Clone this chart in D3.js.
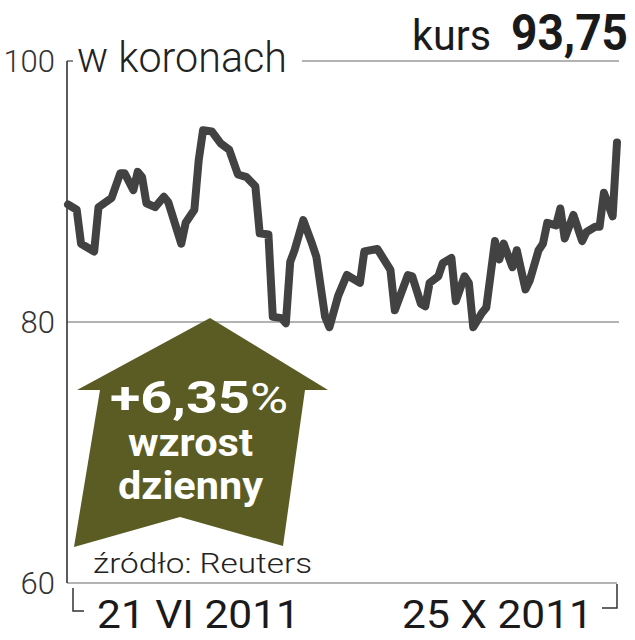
<!DOCTYPE html>
<html><head><meta charset="utf-8">
<script src="https://cdn.jsdelivr.net/npm/d3@7"></script>
<style>
html,body{margin:0;padding:0;background:#fff;}
svg{display:block;font-family:Roboto,"Open Sans",sans-serif;}
</style></head>
<body>
<svg id="c" width="635" height="640"></svg>
<script>
// ---- data ----
const startDate = "2011-06-21";
const endDate = "2011-10-25";
// days since 21 VI 2011
const days = [0,2,3,6,7,10,12,13,15,16,17,18,20,22,23,26,27,29,30,31,33,35,37,39,41,43,44,46,47,49,50,51,52,54,56,57,59,60,62,64,67,68,71,74,75,78,79,81,82,83,85,86,88,89,91,92,93,95,96,98,99,100,102,103,105,106,108,109,110,112,113,114,116,118,119,121,122,123,125,126];
const values = [89.0,88.6,86.0,85.4,88.8,89.5,91.4,91.4,90.1,91.5,91.1,89.1,88.8,89.6,89.2,86.0,87.6,88.6,92.4,94.7,94.6,93.7,93.2,91.3,91.1,90.4,86.8,86.7,80.4,80.3,79.9,84.6,85.5,87.8,86.0,85.0,80.4,79.6,82.0,83.6,83.0,85.4,85.6,84.0,80.9,83.6,83.5,81.4,81.2,83.0,83.5,84.5,84.9,81.6,83.5,83.0,79.6,80.7,81.1,86.2,84.8,86.0,84.2,85.5,82.5,83.2,85.5,86.0,87.6,87.4,88.7,86.4,88.2,86.2,86.9,87.3,87.3,89.9,88.1,93.75];
const yTicks = [60, 80, 100];
const xLabels = ["21 VI 2011", "25 X 2011"];
const unitLabel = "w koronach";
const kursLabel = "kurs";
const kursValue = "93,75";
const changeLabel = ["+6,35", "%"];
const changeText = ["wzrost", "dzienny"];
const sourceLabel = "źródło: Reuters";

const parse = d3.utcParse("%Y-%m-%d");
const t0 = parse(startDate), t1 = parse(endDate);
const data = days.map((d,i)=>({date:d3.utcDay.offset(t0,d), v:values[i]}));

const svg = d3.select("#c");
const x = d3.scaleUtc().domain([t0,t1]).range([68,617]);
const y = d3.scaleLinear().domain([60,100]).range([583,61]);
const axX = 67, rightX = 619;

// gridlines
svg.append("line").attr("x1",axX).attr("x2",73).attr("y1",y(100)).attr("y2",y(100)).attr("stroke","#666").attr("stroke-width",1.5);
svg.append("line").attr("x1",302).attr("x2",rightX).attr("y1",y(100)).attr("y2",y(100)).attr("stroke","#9a9a9a").attr("stroke-width",1.5);
svg.append("line").attr("x1",axX).attr("x2",rightX).attr("y1",y(80)).attr("y2",y(80)).attr("stroke","#9a9a9a").attr("stroke-width",1.5);
svg.append("line").attr("x1",axX).attr("x2",617).attr("y1",y(60)).attr("y2",y(60)).attr("stroke","#9a9a9a").attr("stroke-width",1.5);
// y axis line
svg.append("line").attr("x1",axX).attr("x2",axX).attr("y1",y(100)).attr("y2",y(60)).attr("stroke","#333").attr("stroke-width",1.6);

// y labels
svg.selectAll(".yl").data(yTicks).enter().append("text")
  .attr("x",55).attr("y",d=>y(d)+11).attr("text-anchor","end")
  .attr("font-size",31).attr("font-weight",300).attr("fill","#333").text(d=>d);

// unit label
svg.append("text").attr("x",77).attr("y",72).attr("font-size",42).attr("font-weight",300)
  .attr("fill","#222").attr("textLength",210).attr("lengthAdjust","spacingAndGlyphs").text(unitLabel);

// kurs
svg.append("text").attr("x",412).attr("y",50).attr("font-size",42).attr("font-weight",400)
  .attr("fill","#1a1a1a").attr("textLength",79).attr("lengthAdjust","spacingAndGlyphs").text(kursLabel);
svg.append("text").attr("x",511).attr("y",50).attr("font-size",50).attr("font-weight",700)
  .attr("fill","#1a1a1a").attr("textLength",117).attr("lengthAdjust","spacingAndGlyphs").text(kursValue);

// arrow
const arrowPts = [[210,318],[328,390],[305,390],[283,546],[180,517],[74,547],[100,390],[77,390]];
svg.append("path").attr("d","M"+arrowPts.map(p=>p.join(",")).join("L")+"Z").attr("fill","#5a5c24");

const t1e = svg.append("text").attr("x",110).attr("y",413).attr("fill","#fff").attr("font-weight",700).attr("font-size",45);
t1e.append("tspan").text(changeLabel[0]);
t1e.append("tspan").attr("font-weight",400).attr("font-size",42).text(changeLabel[1]);
t1e.attr("textLength",178).attr("lengthAdjust","spacingAndGlyphs");
svg.append("text").attr("x",128).attr("y",456).attr("fill","#fff").attr("font-weight",700).attr("font-size",38)
  .attr("textLength",125).attr("lengthAdjust","spacingAndGlyphs").text(changeText[0]);
svg.append("text").attr("x",118).attr("y",499).attr("fill","#fff").attr("font-weight",700).attr("font-size",38)
  .attr("textLength",145).attr("lengthAdjust","spacingAndGlyphs").text(changeText[1]);

// source
svg.append("text").attr("x",93).attr("y",573).attr("font-size",28).attr("font-weight",300).attr("fill","#222")
  .attr("textLength",219).attr("lengthAdjust","spacingAndGlyphs").text(sourceLabel);

// line
const line = d3.line().x(d=>x(d.date)).y(d=>y(d.v)).curve(d3.curveLinear);
svg.append("path").datum(data).attr("d",line).attr("fill","none").attr("stroke","#424242")
  .attr("stroke-width",8).attr("stroke-linejoin","round").attr("stroke-linecap","round");

// bottom brackets
svg.append("path").attr("d","M73,588V611H84").attr("fill","none").attr("stroke","#333").attr("stroke-width",1.5);
svg.append("path").attr("d","M617,584V608H602").attr("fill","none").attr("stroke","#333").attr("stroke-width",1.5);

// x labels
svg.append("text").attr("x",97).attr("y",628).attr("font-size",39).attr("font-weight",400).attr("fill","#1a1a1a")
  .attr("textLength",203).attr("lengthAdjust","spacingAndGlyphs").text(xLabels[0]);
svg.append("text").attr("x",402).attr("y",628).attr("font-size",39).attr("font-weight",400).attr("fill","#1a1a1a")
  .attr("textLength",191).attr("lengthAdjust","spacingAndGlyphs").text(xLabels[1]);
</script>
</body></html>
